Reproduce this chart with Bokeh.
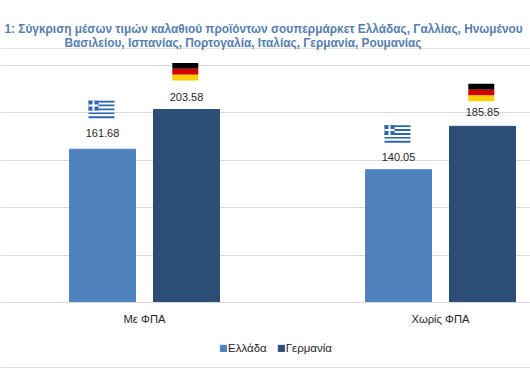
from bokeh.plotting import figure
from bokeh.models import Range1d, FixedTicker, Span, Label, Legend, LegendItem, ColumnDataSource
from bokeh.core.properties import value
from bokeh.embed import file_html
from bokeh.resources import INLINE

categories = ["Με ΦΠΑ", "Χωρίς ΦΠΑ"]
series_names = ["Ελλάδα", "Γερμανία"]
greece = [161.68, 140.05]
germany = [203.58, 185.85]
title_lines = ["1: Σύγκριση μέσων τιμών καλαθιού προϊόντων σουπερμάρκετ Ελλάδας, Γαλλίας, Ηνωμένου",
               "Βασιλείου, Ισπανίας, Πορτογαλία, Ιταλίας, Γερμανία, Ρουμανίας"]
y_ticks = [0, 50, 100, 150, 200, 250]

LIGHT, DARK = "#4F81BD", "#2C4D75"
GRID = "#D9D9D9"
FONT = "Liberation Sans"
W, H = 530, 382
BASE = 302
PX_X, PX_Y = 296.0, 0.948
X0 = 144.0


def py(pixel_row):
    """Data y of a pixel row of the picture (for furniture outside the bars)."""
    return (BASE - pixel_row) / PX_Y


p = figure(width=W, height=H, output_backend="svg", toolbar_location=None,
           x_range=Range1d(-X0 / PX_X, (W - X0) / PX_X),
           y_range=Range1d(py(H), py(0)),
           min_border_left=0, min_border_right=0, min_border_top=0,
           min_border_bottom=0, outline_line_color=None)
p.styles = {"position": "absolute", "left": "0px", "top": "0px"}

xs = list(range(len(categories)))
off = 42.0 / PX_X
bw = 66.0 / PX_X
xg = [x - off for x in xs]
xd = [x + off for x in xs]
r1 = p.vbar(x=xg, top=greece, width=bw, color=LIGHT)
r2 = p.vbar(x=xd, top=germany, width=bw, color=DARK)


def flag_quads(cx, top_val, gap_px, stripes):
    """Stack of equal stripes above a bar, placed gap_px above its top."""
    hw = 13.0 / PX_X
    h = 17.5 / PX_Y
    bottom = top_val + gap_px / PX_Y
    n = len(stripes)
    for i, c in enumerate(stripes):
        p.quad(left=cx - hw, right=cx + hw,
               bottom=bottom + h * (n - 1 - i) / n, top=bottom + h * (n - i) / n,
               color=c, line_color=None)
    return bottom, h, hw


GB, GW = "#2F66AE", "#FFFFFF"
for cx, v, gap in zip([x - 1 / PX_X for x in xg], greece, [31, 27]):
    b, h, hw = flag_quads(cx, v, gap, [GB, GW, GB, GW, GB, GW, GB, GW, GB])
    cw = 10.0 / PX_X
    ch = h * 5 / 9
    p.quad(left=cx - hw, right=cx - hw + cw, bottom=b + h - ch, top=b + h, color=GB, line_color=None)
    p.quad(left=cx - hw, right=cx - hw + cw, bottom=b + h - ch * 3 / 5, top=b + h - ch * 2 / 5, color=GW, line_color=None)
    p.quad(left=cx - hw + cw * 0.4, right=cx - hw + cw * 0.6, bottom=b + h - ch, top=b + h, color=GW, line_color=None)
for cx, v, gap in zip([x - 1.2 / PX_X for x in xd], germany, [29, 25]):
    flag_quads(cx, v, gap, ["#000000", "#D00000", "#FFCE00"])

lab = ColumnDataSource(dict(
    x=xg + xd,
    y=greece + germany,
    t=[f"{v:.2f}" for v in greece + germany],
    dy=[-16, -13, -13, -14],
))
p.text(x="x", y="y", text="t", source=lab, y_offset="dy", text_align="center", text_baseline="middle",
       text_font=value(FONT), text_font_size="11px", text_color="#262626")

p.yaxis.visible = False
p.ygrid.ticker = FixedTicker(ticks=y_ticks)
p.ygrid.grid_line_color = GRID
p.xgrid.visible = False
p.xaxis.ticker = FixedTicker(ticks=xs)
p.xaxis.major_label_overrides = {i: c for i, c in enumerate(categories)}
p.xaxis.fixed_location = 0
p.xaxis.axis_line_color = GRID
p.xaxis.major_tick_line_color = None
p.xaxis.minor_tick_line_color = None
p.xaxis.major_label_standoff = 4
p.xaxis.major_label_text_font = FONT
p.xaxis.major_label_text_font_size = "11.2px"
p.xaxis.major_label_text_color = "#262626"

p.add_layout(Span(location=py(48), dimension="width", line_color="#E6E6E6", line_width=1))
p.add_layout(Span(location=py(367), dimension="width", line_color=GRID, line_width=1))

for txt, x, row in zip(title_lines, [4, 64], [21.5, 35.5]):
    p.add_layout(Label(x=x, y=py(row), x_units="screen", text=txt,
                       text_font=FONT, text_font_size="11.85px", text_font_style="bold",
                       text_color="#5580AE", text_baseline="top"))

leg = Legend(items=[LegendItem(label=series_names[0], renderers=[r1]),
                    LegendItem(label=series_names[1], renderers=[r2])],
             orientation="horizontal", location=(219, 28), border_line_color=None,
             background_fill_alpha=0, label_text_font=FONT, label_text_font_size="11.5px",
             label_text_color="#262626", glyph_width=8, glyph_height=8, spacing=10,
             label_standoff=1, margin=0, padding=5)
p.add_layout(leg, "center")

open("out.html", "w").write(file_html(p, INLINE))
